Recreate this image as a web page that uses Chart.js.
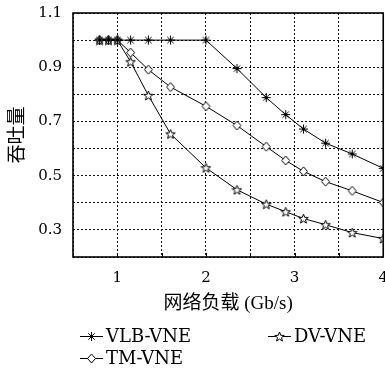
<!DOCTYPE html>
<html>
<head>
<meta charset="utf-8">
<script src="https://cdn.jsdelivr.net/npm/chart.js@4.4.1/dist/chart.umd.min.js"></script>
<style>
    html, body { margin: 0; padding: 0; background: #fff; overflow: hidden; }
    #wrap { width: 400px; height: 369px; }
</style>
</head>
<body>
<div id="wrap"><canvas id="chart" width="400" height="369"></canvas></div>
<script>
// network load (Gb/s)
const xLoad = [0.8, 0.9, 1.0, 1.15, 1.35, 1.6, 2.0, 2.35, 2.68, 2.9, 3.1, 3.35, 3.65, 4.0];
// throughput per algorithm
const vlbVne = [1.0, 1.0, 1.0, 1.0, 1.0, 1.0, 1.0, 0.895, 0.788, 0.725, 0.672, 0.62, 0.58, 0.527];
const tmVne = [1.0, 1.0, 1.0, 0.954, 0.891, 0.827, 0.756, 0.685, 0.607, 0.556, 0.516, 0.478, 0.444, 0.401];
const dvVne = [1.0, 1.0, 1.0, 0.92, 0.796, 0.654, 0.529, 0.448, 0.395, 0.367, 0.342, 0.319, 0.29, 0.268];
const seriesNames = ['VLB-VNE', 'DV-VNE', 'TM-VNE'];
const xTitle = '网络负载 (Gb/s)';
const yTitle = '吞吐量';

const serif = '"Liberation Serif", "Noto Sans CJK SC", serif';
const tickFont = '"DejaVu Serif", serif';

function makeMarker(kind) {
    const c = document.createElement('canvas');
    c.width = 11;
    c.height = 11;
    const ctx = c.getContext('2d');
    ctx.strokeStyle = '#000';
    ctx.lineWidth = 1;
    ctx.fillStyle = '#fff';
    const m = 5.5;
    if (kind === 'asterisk') {
        ctx.beginPath();
        for (let i = 0; i < 4; i++) {
            const a = i * Math.PI / 4;
            ctx.moveTo(m + Math.cos(a) * 4.5, m + Math.sin(a) * 4.5);
            ctx.lineTo(m - Math.cos(a) * 4.5, m - Math.sin(a) * 4.5);
        }
        ctx.stroke();
    } else if (kind === 'diamond') {
        ctx.beginPath();
        ctx.moveTo(m, m - 4.5);
        ctx.lineTo(m + 4, m);
        ctx.lineTo(m, m + 4.5);
        ctx.lineTo(m - 4, m);
        ctx.closePath();
        ctx.fill();
        ctx.stroke();
    } else {
        ctx.beginPath();
        for (let i = 0; i < 10; i++) {
            const r = i % 2 === 0 ? 5 : 2.1;
            const a = -Math.PI / 2 + i * Math.PI / 5;
            const px = m + Math.cos(a) * r;
            const py = m + 0.5 + Math.sin(a) * r;
            if (i === 0) ctx.moveTo(px, py); else ctx.lineTo(px, py);
        }
        ctx.closePath();
        ctx.fill();
        ctx.stroke();
    }
    return c;
}

const markers = {
    'VLB-VNE': makeMarker('asterisk'),
    'DV-VNE': makeMarker('star'),
    'TM-VNE': makeMarker('diamond'),
};

function toPoints(ys) {
    return xLoad.map((x, i) => ({x: x, y: ys[i]}));
}

const valuesByName = {'VLB-VNE': vlbVne, 'DV-VNE': dvVne, 'TM-VNE': tmVne};

// plot frame + small inner ticks, like the original figure
const frameBox = {
    id: 'frameBox',
    afterDatasetsDraw(chart) {
        const {ctx, chartArea: a, scales} = chart;
        ctx.save();
        ctx.strokeStyle = '#000';
        ctx.lineWidth = 1.6;
        ctx.strokeRect(a.left, a.top, a.right - a.left, a.bottom - a.top);
        ctx.lineWidth = 1;
        ctx.beginPath();
        scales.x.ticks.forEach(t => {
            const px = Math.round(scales.x.getPixelForValue(t.value)) + 0.5;
            ctx.moveTo(px, a.bottom);
            ctx.lineTo(px, a.bottom - 4);
        });
        ctx.stroke();
        ctx.restore();
    }
};

// legend drawn by hand: two columns, line + marker + name
const bottomLegend = {
    id: 'bottomLegend',
    afterDraw(chart) {
        const ctx = chart.ctx;
        const spots = [
            {name: 'VLB-VNE', x: 80, y: 336},
            {name: 'DV-VNE', x: 268, y: 336},
            {name: 'TM-VNE', x: 80, y: 358},
        ];
        ctx.save();
        ctx.font = '18px ' + tickFont;
        ctx.fillStyle = '#000';
        ctx.textBaseline = 'middle';
        spots.forEach(s => {
            ctx.strokeStyle = '#000';
            ctx.lineWidth = 1;
            ctx.beginPath();
            ctx.moveTo(s.x, s.y + 0.5);
            ctx.lineTo(s.x + 23, s.y + 0.5);
            ctx.stroke();
            const img = markers[s.name];
            ctx.drawImage(img, s.x + 11.5 - img.width / 2, s.y - img.height / 2 + 0.5);
            ctx.fillText(s.name, s.x + 26, s.y + 1);
        });
        ctx.restore();
    }
};

new Chart(document.getElementById('chart'), {
    type: 'line',
    data: {
        datasets: seriesNames.map(name => ({
            label: name,
            data: toPoints(valuesByName[name]),
            borderColor: '#000',
            borderWidth: 1,
            pointStyle: markers[name],
            pointRadius: 5,
            fill: false,
            tension: 0,
        }))
    },
    options: {
        responsive: false,
        animation: false,
        layout: {
            padding: {left: 0, right: 16, top: 13, bottom: 50}
        },
        plugins: {
            legend: {display: false},
            tooltip: {enabled: false},
        },
        scales: {
            x: {
                type: 'linear',
                min: 0.5,
                max: 4,
                border: {display: false, dash: [2, 2]},
                grid: {
                    color: '#111',
                    lineWidth: 1,
                    drawTicks: false,
                },
                ticks: {
                    stepSize: 0.5,
                    padding: 12,
                    color: '#000',
                    font: {family: tickFont, size: 15},
                    maxRotation: 0,
                    autoSkip: false,
                    callback: v => Number.isInteger(v) ? String(v) : '',
                },
                title: {
                    display: true,
                    text: xTitle,
                    color: '#000',
                    font: {family: serif, size: 19},
                    padding: {top: 2},
                },
                afterFit(scale) {
                    scale.height = 62;
                }
            },
            y: {
                min: 0.2,
                max: 1.1,
                border: {display: false, dash: [2, 2]},
                grid: {
                    color: '#111',
                    lineWidth: 1,
                    drawTicks: false,
                },
                ticks: {
                    stepSize: 0.1,
                    padding: 11,
                    color: '#000',
                    font: {family: tickFont, size: 15},
                    autoSkip: false,
                    callback: v => {
                        const k = Math.round(v * 10);
                        return k % 2 === 1 ? (k / 10).toFixed(1) : '';
                    },
                },
                title: {
                    display: true,
                    text: yTitle,
                    color: '#000',
                    font: {family: serif, size: 19},
                    padding: {top: 7, bottom: 0},
                },
                afterFit(scale) {
                    scale.width = 73;
                    // let the layout padding alone decide the top edge
                    scale.paddingTop = 0;
                    scale.paddingBottom = 0;
                }
            }
        }
    },
    plugins: [frameBox, bottomLegend]
});
</script>
</body>
</html>
